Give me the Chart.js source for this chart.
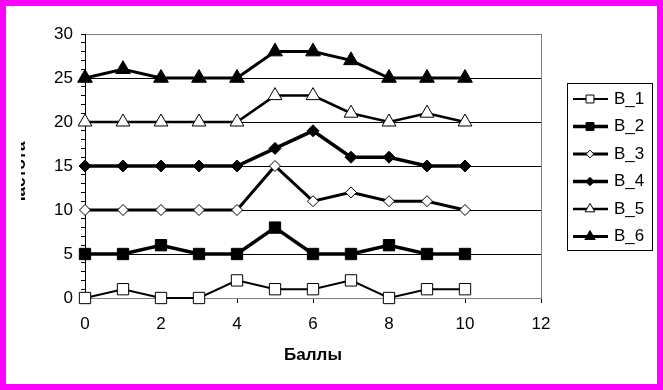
<!DOCTYPE html>
<html>
<head>
<meta charset="utf-8">
<script src="https://cdn.jsdelivr.net/npm/chart.js@4"></script>
<style>
  html, body { margin: 0; padding: 0; background: #fff; }
  #frame { width: 663px; height: 390px; box-sizing: border-box; border: 6px solid #ff00ff; background: #fff; }
  canvas { display: block; }
</style>
</head>
<body>
<div id="frame"><canvas id="chart" width="651" height="378"></canvas></div>
<script>
// баллы по оси X
const scores = [0, 1, 2, 3, 4, 5, 6, 7, 8, 9, 10];

// частоты по сериям
const b1 = [0, 1, 0, 0, 2, 1, 1, 2, 0, 1, 1];
const b2 = [5, 5, 6, 5, 5, 8, 5, 5, 6, 5, 5];
const b3 = [10, 10, 10, 10, 10, 15, 11, 12, 11, 11, 10];
const b4 = [15, 15, 15, 15, 15, 17, 19, 16, 16, 15, 15];
const b5 = [20, 20, 20, 20, 20, 23, 23, 21, 20, 21, 20];
const b6 = [25, 26, 25, 25, 25, 28, 28, 27, 25, 25, 25];

const seriesNames = ["B_1", "B_2", "B_3", "B_4", "B_5", "B_6"];
const xTicks = [0, 2, 4, 6, 8, 10, 12];
const yTicks = [0, 5, 10, 15, 20, 25, 30];

const FONT = '"Liberation Sans", Arial, sans-serif';

function series(label, values, style, radius, filled, width) {
  return {
    label: label,
    data: values.map((v, i) => ({ x: scores[i], y: v })),
    borderColor: "#000",
    borderWidth: width,
    pointStyle: style,
    pointRadius: radius,
    pointBorderWidth: 1,
    pointBorderColor: "#000",
    pointBackgroundColor: filled ? "#000" : "#fff",
    tension: 0,
    clip: false,
  };
}

// легенда справа, в рамке
const sideLegend = {
  id: "sideLegend",
  afterDraw(chart) {
    const ctx = chart.ctx;
    ctx.save();
    ctx.strokeStyle = "#000";
    ctx.lineWidth = 1;
    ctx.strokeRect(561.5, 77.5, 85, 167);
    chart.data.datasets.forEach((ds, i) => {
      const y = 93 + i * 27.5;
      ctx.beginPath();
      ctx.moveTo(567, y);
      ctx.lineTo(602, y);
      ctx.lineWidth = ds.borderWidth;
      ctx.strokeStyle = "#000";
      ctx.stroke();
      ctx.fillStyle = ds.pointBackgroundColor;
      ctx.strokeStyle = "#000";
      ctx.lineWidth = 1;
      Chart.helpers.drawPoint(ctx, { pointStyle: ds.pointStyle, radius: ds.pointRadius * 0.7, borderWidth: 1 }, 584, y);
      ctx.fillStyle = "#000";
      ctx.font = "17px " + FONT;
      ctx.textAlign = "left";
      ctx.textBaseline = "middle";
      ctx.fillText(ds.label, 608, y);
    });
    ctx.restore();
  },
};

// обрезанная подпись оси Y
const yTitle = {
  id: "yTitle",
  afterDraw(chart) {
    const ctx = chart.ctx;
    ctx.save();
    ctx.beginPath();
    ctx.rect(15, 0, 30, 378);
    ctx.clip();
    ctx.translate(19, 169);
    ctx.rotate(-Math.PI / 2);
    ctx.font = "bold 17px " + FONT;
    ctx.fillStyle = "#000";
    ctx.textAlign = "center";
    ctx.textBaseline = "alphabetic";
    ctx.fillText("Частота", 0, 0);
    ctx.restore();
  },
};

const ctx = document.getElementById("chart").getContext("2d");
new Chart(ctx, {
  type: "line",
  data: {
    datasets: [
      series(seriesNames[0], b1, "rect", 8, false, 2),
      series(seriesNames[1], b2, "rect", 8, true, 3.5),
      series(seriesNames[2], b3, "rectRot", 5.5, false, 3),
      series(seriesNames[3], b4, "rectRot", 6, true, 3.5),
      series(seriesNames[4], b5, "triangle", 8, false, 2.5),
      series(seriesNames[5], b6, "triangle", 8.5, true, 3),
    ],
  },
  options: {
    responsive: false,
    animation: false,
    layout: { padding: { left: 0, top: 28, right: 116, bottom: 0 } },
    plugins: {
      legend: { display: false },
      tooltip: { enabled: false },
    },
    scales: {
      x: {
        type: "linear",
        min: 0,
        max: 12,
        afterBuildTicks: (scale) => { scale.ticks = xTicks.map((v) => ({ value: v })); },
        afterFit: (scale) => { scale.height = 86; },
        ticks: { color: "#000", font: { family: FONT, size: 17 }, padding: 11, maxRotation: 0 },
        grid: {
          color: (c) => (c.tick && c.tick.value === 12 ? "#808080" : "transparent"),
          tickColor: "#000",
          tickLength: 5,
          lineWidth: 1,
        },
        border: { color: "#808080", width: 1 },
        title: {
          display: true,
          text: "Баллы",
          color: "#000",
          font: { family: FONT, size: 17, weight: "bold" },
          padding: { top: 0, bottom: 18 },
        },
      },
      y: {
        min: 0,
        max: 30,
        afterFit: (scale) => { scale.width = 79; },
        ticks: {
          stepSize: 1,
          autoSkip: false,
          color: "#000",
          font: { family: FONT, size: 17 },
          padding: 8,
          callback: (v) => (yTicks.includes(v) ? v : ""),
        },
        grid: {
          color: (c) => {
            const v = c.tick ? c.tick.value : -1;
            if (v === 0 || v === 30) return "#808080";
            return v % 5 === 0 ? "#000" : "transparent";
          },
          tickColor: "#000",
          tickLength: 4,
          lineWidth: 1,
        },
        border: { color: "#000", width: 1 },
      },
    },
  },
  plugins: [sideLegend, yTitle],
});
</script>
</body>
</html>
